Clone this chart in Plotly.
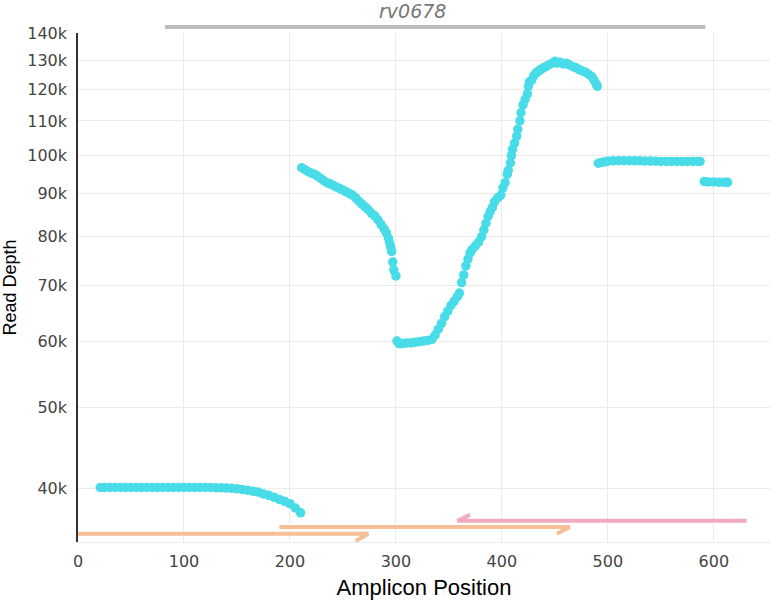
import plotly.graph_objects as go

# read depth along the amplicon
positions = [
    21, 25, 30, 35, 40, 45, 50, 55, 60, 65, 70, 75, 80, 85, 90, 95, 100, 105, 110, 115,
    120, 125, 130, 135, 140, 145, 150, 155, 160, 165, 170, 175, 180, 185, 190, 195, 200, 205, 210,
    211, 214, 217, 220, 223, 226, 229, 232, 235, 238, 241, 244, 247, 250, 253, 256, 259, 262,
    265, 268, 271, 274, 277, 280, 283, 286, 289, 291, 293, 294, 295, 296, 297, 298, 300,
    301, 303, 306, 310, 314, 318, 322, 326, 330, 334, 337, 340, 343, 346, 349, 352, 355, 358,
    360, 362, 364, 366, 368, 370, 372, 375, 378, 381, 383, 385, 387, 389, 391, 393, 396, 399,
    401, 403, 405, 406, 408, 409, 410, 412, 414, 415, 417, 418, 420, 422, 424, 425, 426, 428,
    430, 432, 434, 436, 438, 440, 442, 445, 448, 450, 452, 455, 458, 461, 464, 467, 470, 473,
    476, 479, 482, 485, 487, 489, 490,
    491, 494, 497, 500, 505, 510, 515, 520, 525, 530, 535, 540, 545, 550, 555, 560, 565, 570,
    575, 580, 585, 587,
    591, 595, 600, 605, 610, 613,
]
depth = [
    40100, 40100, 40100, 40100, 40100, 40100, 40100, 40100, 40100, 40100, 40100, 40100, 40100,
    40100, 40100, 40100, 40100, 40100, 40100, 40100, 40100, 40100, 40080, 40060, 40040, 40010,
    39960, 39880, 39800, 39700, 39600, 39400, 39250, 39050, 38800, 38600, 38350, 37900, 37400,
    96700, 96200, 95700, 95300, 95000, 94500, 93900, 93300, 92800, 92500, 92100, 91700, 91300,
    90900, 90500, 90100, 89700, 89000, 88200, 87500, 86800, 86100, 85300, 84700, 83800, 82700,
    81700, 80800, 79600, 78600, 77800, 76800, 74600, 73000, 71800,
    60000, 59600, 59600, 59700, 59700, 59800, 59900, 60000, 60100, 60300, 61000, 62000, 63000,
    64200, 65200, 66200, 67000, 67800, 68500, 70500, 72000, 73800, 75200, 76500, 77200, 78000,
    78800, 80000, 81500, 83000, 84600, 85700, 86700, 88000, 89000, 89700, 91500, 92800, 95000,
    96000, 98000, 100000, 101700, 103500, 105500, 107500, 110000, 112500, 115000, 116800,
    118500, 121000, 122500, 123000, 124500, 125500, 126000, 126600, 127000, 127500, 127800,
    128500, 129000, 129600, 129000, 129300, 128700, 128900, 128300, 127700, 127300, 126700,
    126200, 125800, 125000, 124200, 123000, 121800, 121000,
    97900, 98100, 98300, 98450, 98550, 98600, 98600, 98600, 98600, 98550, 98500, 98500, 98450,
    98400, 98400, 98400, 98400, 98400, 98400, 98400, 98400, 98400,
    93100, 93000, 93000, 92900, 92900, 92900,
]

# primers: start, end, strand
primer_start = [0, 190, 358]
primer_end = [274, 464, 631]
primer_strand = ["+", "+", "-"]
primer_colors = ["#f7bf95", "#f7bf95", "#f4a9c2"]
primer_levels = [35300, 35970, 36600]
barb_levels = [34600, 35300, 37200]

gene_name = "rv0678"
gene_start = 82
gene_end = 592

y_ticks = [40000, 50000, 60000, 70000, 80000, 90000, 100000, 110000, 120000, 130000, 140000]
y_labels = ["40k", "50k", "60k", "70k", "80k", "90k", "100k", "110k", "120k", "130k", "140k"]

fig = go.Figure()

for s, e, strand, c, lvl, blvl in zip(primer_start, primer_end, primer_strand,
                                      primer_colors, primer_levels, barb_levels):
    if strand == "+":
        xs = [s, e, e - 12]
    else:
        xs = [e, s, s + 12]
    fig.add_trace(go.Scatter(x=xs, y=[lvl, lvl, blvl], mode="lines",
                             line=dict(color=c, width=4), hoverinfo="skip",
                             showlegend=False))

fig.add_trace(go.Scatter(x=positions, y=depth, mode="markers",
                         marker=dict(color="#48dce8", size=9.5),
                         showlegend=False))

# gene bar above the plot
fig.add_shape(type="line", xref="x", yref="paper", x0=gene_start, x1=gene_end,
              y0=1.012, y1=1.012, line=dict(color="#bdbdbd", width=4))
fig.add_annotation(x=316, xref="x", y=1.043, yref="paper",
                   yanchor="middle", text=gene_name, showarrow=False,
                   font=dict(family="DejaVu Sans", size=19, color="#777777", style="italic"))

fig.update_layout(
    width=771, height=600,
    margin=dict(l=78, r=1, t=33, b=58),
    plot_bgcolor="white", paper_bgcolor="white",
    font=dict(family="DejaVu Sans", size=16, color="#444"),
)
fig.update_xaxes(
    range=[0, 653], tickvals=[0, 100, 200, 300, 400, 500, 600],
    showgrid=True, gridcolor="#ebebeb", zeroline=False,
    showline=True, linecolor="#ebebeb", linewidth=1,
    ticks="outside", ticklen=5, tickcolor="rgba(0,0,0,0)",
    automargin=False,
    title=dict(text="Amplicon Position", font=dict(family="Liberation Sans", size=22, color="black")),
)
fig.update_yaxes(
    type="log", range=[4.538, 5.1465], tickvals=y_ticks, ticktext=y_labels,
    showgrid=True, gridcolor="#ebebeb", zeroline=False,
    showline=True, linecolor="#333", linewidth=1.5,
    ticks="outside", ticklen=6, tickcolor="rgba(0,0,0,0)",
    automargin=False,
    title=dict(text="Read Depth", font=dict(family="Liberation Sans", size=18, color="black")),
)

# drop the default page margin so the figure fills the window
fig.write_html("out.html", config={"displayModeBar": False},
               post_script="document.body.style.margin = '0';")
